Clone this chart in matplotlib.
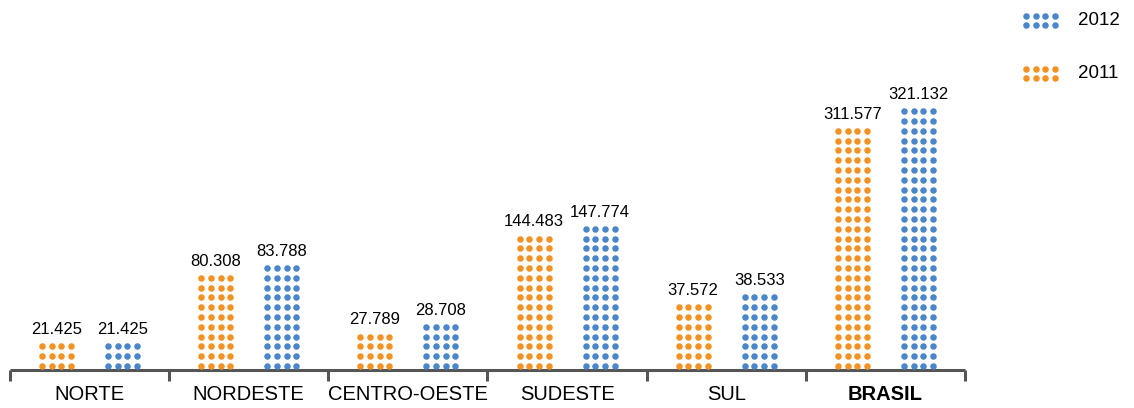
import matplotlib
matplotlib.use('Agg')
import matplotlib.pyplot as plt
import numpy as np

plt.rcParams['font.family'] = ['Liberation Sans', 'DejaVu Sans']

# data
regions = ['NORTE', 'NORDESTE', 'CENTRO-OESTE', 'SUDESTE', 'SUL', 'BRASIL']
vals_2011 = [21.425, 80.308, 27.789, 144.483, 37.572, 311.577]
vals_2012 = [21.425, 83.788, 28.708, 147.774, 38.533, 321.132]
# drawn bar height, in rows of dots (the picture is not to scale)
rows_2011 = [3, 10, 4, 14, 7, 25]
rows_2012 = [3, 11, 5, 15, 8, 27]
years = ['2011', '2012']

orange = '#F39224'
blue = '#4A87CA'
axcol = '#555555'

W, H = 1134, 408
fig = plt.figure(figsize = (W/100, H/100), dpi = 100)

# main axes: baseline at y=370px, groups span x 10..965 px
row_px = 9.8
grp_px = (965 - 10) / 6.
ax = fig.add_axes([10./W, 38./H, 955./W, 370./H])
ax.set_xlim(-0.5, 5.5)
ax.set_ylim(0, 370. / row_px)

col_step = 9.7 / grp_px
bar_off = 33. / grp_px
base = 0.4  # first dot row centre above the axis line

def dotbar(xc, nrows, color):
    cols = (np.arange(4) - 1.5) * col_step + xc
    rws = base + np.arange(nrows)
    xx, yy = np.meshgrid(cols, rws)
    ax.scatter(xx.ravel(), yy.ravel(), s = 22, color = color, lw = 0, zorder = 3)
    return rws[-1]

for i in range(len(regions)):
    for off, nr, v, c in [(-bar_off, rows_2011[i], vals_2011[i], orange),
                          (bar_off, rows_2012[i], vals_2012[i], blue)]:
        top = dotbar(i + off, nr, c)
        ax.text(i + off, top + 1.25, f'{v:.3f}', ha = 'center', va = 'baseline',
                fontsize = 12, color = 'black')

for s in ['top', 'right', 'left']:
    ax.spines[s].set_visible(False)
ax.spines['bottom'].set_color(axcol)
ax.spines['bottom'].set_linewidth(2.2)
ax.spines['bottom'].set_capstyle('butt')

ax.set_yticks([])
ax.set_xticks(np.arange(-0.5, 6, 1))
ax.set_xticklabels([])
ax.tick_params(axis = 'x', which = 'major', direction = 'out', length = 8,
               width = 2.2, color = axcol)
ax.set_xticks(np.arange(6), minor = True)
ax.set_xticklabels(regions, minor = True, fontsize = 14.5)
ax.tick_params(axis = 'x', which = 'minor', length = 0, pad = 11)
for lab in ax.get_xticklabels(minor = True):
    if lab.get_text() == 'BRASIL': lab.set_fontweight('bold')

# legend drawn as its own little axes
lax = fig.add_axes([0, 0, 1, 1])
lax.set_xlim(0, W); lax.set_ylim(H, 0)
lax.axis('off')
for yc, lab, c in [(20.5, years[1], blue), (73.5, years[0], orange)]:
    xx, yy = np.meshgrid(1026 + np.arange(4) * 9.6, yc + np.array([-4.6, 4.6]))
    lax.scatter(xx.ravel(), yy.ravel(), s = 22, color = c, lw = 0)
    lax.text(1078, yc, lab, ha = 'left', va = 'center', fontsize = 13.5)

plt.savefig('out.png', dpi = 100)
